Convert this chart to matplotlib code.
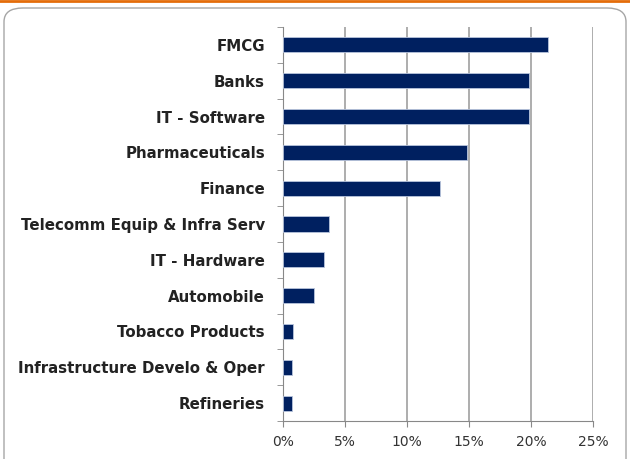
import matplotlib
matplotlib.use("Agg")
import matplotlib.pyplot as plt
from matplotlib.patches import FancyBboxPatch
from matplotlib.lines import Line2D

categories = ["FMCG", "Banks", "IT - Software", "Pharmaceuticals", "Finance",
              "Telecomm Equip & Infra Serv", "IT - Hardware", "Automobile",
              "Tobacco Products", "Infrastructure Develo & Oper", "Refineries"]
values = [21.4, 19.8, 19.8, 14.8, 12.7, 3.7, 3.3, 2.5, 0.8, 0.7, 0.7]
xticks = [0, 5, 10, 15, 20, 25]
xticklabels = ["0%", "5%", "10%", "15%", "20%", "25%"]

fig = plt.figure(figsize=(6.3, 4.59), dpi=100)
fig.patch.set_facecolor("white")

# outer rounded frame
frame = FancyBboxPatch((4/630, -0.05), 622/630, 1 - 8/459 + 0.05,
                       boxstyle="round,pad=0,rounding_size=0.03",
                       transform=fig.transFigure, facecolor="none",
                       edgecolor="#a6a6a6", linewidth=1.0)
fig.patches.append(frame)
fig.lines.append(Line2D([0, 1], [1 - 1/459, 1 - 1/459], transform=fig.transFigure,
                        color="#e46c0a", linewidth=2))

ax = fig.add_axes([283/630, 1 - 421/459, 310/630, (421 - 27)/459])
y = list(range(len(categories)))
ax.barh(y, values, height=0.42, color="#002060", edgecolor="#b8c4dc", linewidth=0.6, zorder=3)
ax.set_ylim(len(categories) - 0.5, -0.5)
ax.set_xlim(0, 25)
ax.set_xticks(xticks)
ax.set_xticklabels(xticklabels, fontsize=10, color="#333333")
ax.set_yticks(y)
ax.set_yticklabels(categories, fontsize=10.8, fontweight="bold", color="#222222")
ax.set_yticks([i + 0.5 for i in range(-1, len(categories))], minor=True)
ax.tick_params(axis="y", which="major", length=0, pad=13)
ax.tick_params(axis="y", which="minor", length=4, color="#888888", direction="out")
ax.tick_params(axis="x", length=4, color="#888888", pad=6)
ax.grid(axis="x", color="#a0a0a0", linewidth=1.2, zorder=0)
for s in ["top", "right"]:
    ax.spines[s].set_visible(False)
ax.spines["left"].set_color("#888888")
ax.spines["bottom"].set_color("#888888")

fig.savefig("out.png", dpi=100)
